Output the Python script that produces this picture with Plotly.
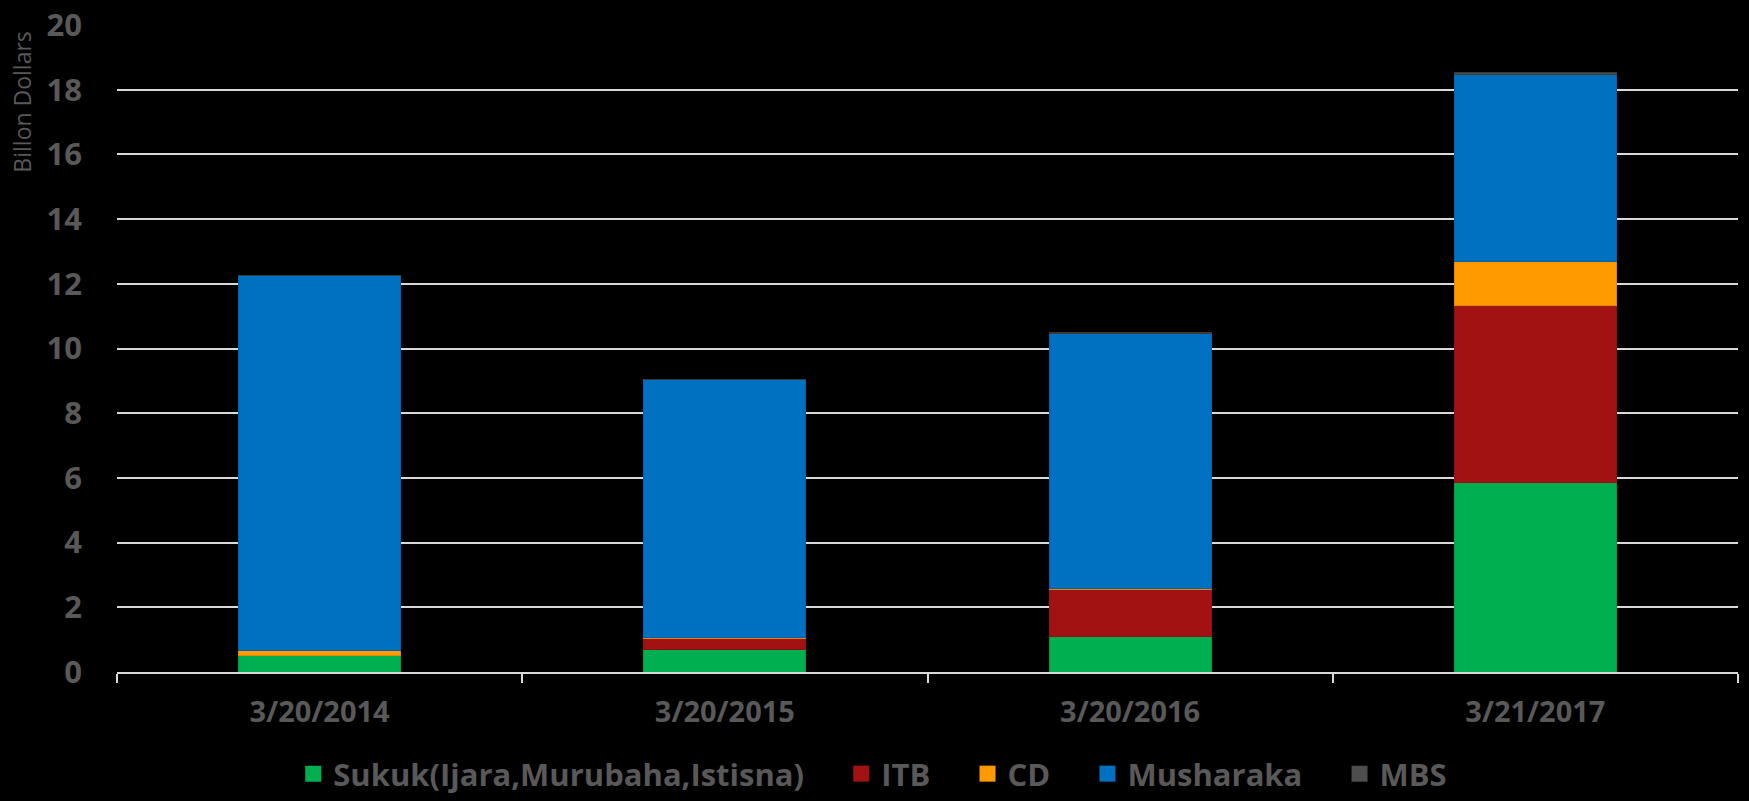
import plotly.graph_objects as go

categories = ["3/20/2014", "3/20/2015", "3/20/2016", "3/21/2017"]
sukuk = [0.52, 0.70, 1.09, 5.85]
itb = [0.0, 0.33, 1.46, 5.48]
cd = [0.13, 0.05, 0.03, 1.37]
musharaka = [11.60, 7.95, 7.87, 5.77]
mbs = [0.0, 0.0, 0.05, 0.06]

series_names = ["Sukuk(Ijara,Murubaha,Istisna)", "ITB", "CD", "Musharaka", "MBS"]
series_values = [sukuk, itb, cd, musharaka, mbs]
colors = ["#00AF4F", "#A21212", "#FF9A00", "#0070C0", "#4D4D4D"]
edges = ["#009944", "#8E1010", "#E08800", "#0062A8", "#3A3A3A"]

y_ticks = [0, 2, 4, 6, 8, 10, 12, 14, 16, 18, 20]

FONT = "Open Sans"
GRAY = "#595959"
NB = "\u00a0"

fig = go.Figure()
for name, vals, col, ed in zip(series_names, series_values, colors, edges):
    fig.add_trace(go.Bar(x=categories, y=vals, name=name, marker=dict(color=col, line=dict(color=ed, width=1)),
                         showlegend=False))
# legend entries with larger square symbols
for i, (name, col) in enumerate(zip(series_names, colors)):
    label = name + (NB * 4 if i < len(series_names) - 1 else "")
    fig.add_trace(go.Scatter(x=[None], y=[None], mode="markers", name=label,
                             marker=dict(symbol="square", size=16, color=col)))

fig.update_layout(
    barmode="stack",
    bargap=0.6,
    width=1749,
    height=801,
    paper_bgcolor="#000000",
    plot_bgcolor="#000000",
    margin=dict(l=117, r=11, t=25, b=129, autoexpand=False),
    showlegend=True,
    legend=dict(orientation="h", xref="container", yref="container", x=0.499, xanchor="center",
                y=0.0337, yanchor="middle",
                font=dict(family=FONT, size=31, color=GRAY, weight="bold"),
                bgcolor="rgba(0,0,0,0)", traceorder="normal"),
    xaxis=dict(type="category", showgrid=False, showline=True, linecolor="#D9D9D9", linewidth=2,
               ticks="outside", tickson="boundaries", ticklen=9, tickcolor="#D9D9D9", tickwidth=1.5,
               tickfont=dict(family=FONT, size=29, color=GRAY, weight="bold"),
               ticklabelstandoff=13, automargin=False),
    yaxis=dict(range=[0, 20], tickvals=y_ticks, showgrid=True, gridcolor="#D9D9D9", gridwidth=1.5,
               zeroline=False, showline=False,
               tickfont=dict(family=FONT, size=31, color=GRAY, weight="bold"),
               ticklabelstandoff=34, automargin=False),
    annotations=[dict(text="Billon Dollars", xref="paper", yref="paper", x=-0.0586, y=0.88,
                      textangle=-90, showarrow=False, xanchor="center", yanchor="middle",
                      font=dict(family=FONT, size=23, color=GRAY))],
)

fig.write_html("out.html", config={"displayModeBar": False},
               post_script="document.body.style.margin='0';document.body.style.background='#000';document.body.style.overflow='hidden';")
